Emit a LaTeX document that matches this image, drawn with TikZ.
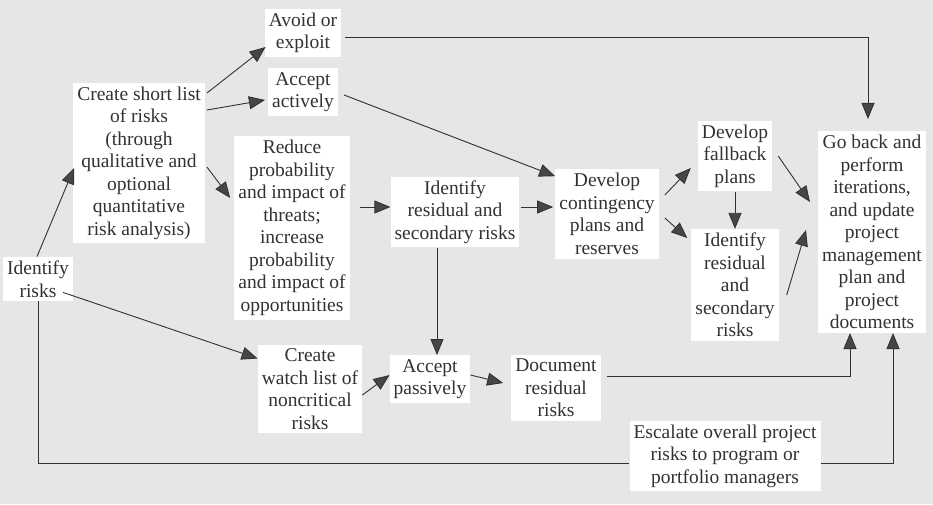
\documentclass[tikz,border=0pt]{standalone}
\usepackage{fontspec}
\setmainfont{Liberation Serif}
\usetikzlibrary{arrows.meta,calc}
\definecolor{bg}{RGB}{230,230,230}
\definecolor{ink}{RGB}{50,50,50}
\definecolor{tipc}{RGB}{70,70,70}
\begin{document}
\begin{tikzpicture}[x=1pt,y=-1pt,
  box/.style={fill=white,align=center,inner sep=4pt,text=ink,font=\fontsize{19.5}{22.5}\selectfont},
  arr/.style={draw=ink,line width=0.9pt,-{Triangle[length=16pt,width=13pt,fill=tipc]}},
  ln/.style={draw=ink,line width=0.9pt}]
\path[fill=bg] (0,0) rectangle (933,504);
\useasboundingbox (0,0) rectangle (933,504);
% nodes
\node[box] (identify) at (38,279) {Identify\\risks};
\node[box] (create) at (139,163) {Create short list\\of risks\\(through\\qualitative and\\optional\\quantitative\\risk analysis)};
\node[box] (avoid) at (303,33) {Avoid or\\exploit};
\node[box] (acceptA) at (303,92) {Accept\\actively};
\node[box] (reduce) at (292,228) {Reduce\\probability\\and impact of\\threats;\\increase\\probability\\and impact of\\opportunities};
\node[box] (resid1) at (455,212) {Identify\\residual and\\secondary risks};
\node[box] (conting) at (607,214) {Develop\\contingency\\plans and\\reserves};
\node[box] (fallback) at (735,156) {Develop\\fallback\\plans};
\node[box] (resid2) at (735,285) {Identify\\residual\\and\\secondary\\risks};
\node[box] (goback) at (872,232) {Go back and\\perform\\iterations,\\and update\\project\\management\\plan and\\project\\documents};
\node[box] (watch) at (310,389) {Create\\watch list of\\noncritical\\risks};
\node[box] (acceptP) at (430,379) {Accept\\passively};
\node[box] (document) at (556,388) {Document\\residual\\risks};
\node[box] (escalate) at (725,456) {Escalate overall project\\risks to program or\\portfolio managers};
% connectors
\draw[arr] ([xshift=-1]identify.north) -- ([xshift=1,yshift=-5]create.west);
\draw[arr] ([xshift=-10,yshift=9]identify.south east) -- ([yshift=-14]watch.north west);
\draw[ln] (identify.south) |- ([yshift=-7]escalate.west);
\draw[arr] ([yshift=-7]escalate.east) -| ([xshift=21]goback.south);
\draw[arr] ([xshift=2,yshift=70]create.east) -- ([xshift=1,yshift=-14]avoid.west);
\draw[arr] ([xshift=2,yshift=53]create.east) -- ([xshift=-3,yshift=-8]acceptA.west);
\draw[arr] ([xshift=2,yshift=-4]create.east) -- ([xshift=-4,yshift=30]reduce.west);
\draw[arr] ([xshift=4,yshift=-4]avoid.east) -| ([xshift=-4,yshift=12]goback.north);
\draw[arr] ([xshift=6,yshift=-3]acceptA.east) -- ([yshift=-7]conting.north west);
\draw[arr] ([xshift=10,yshift=21]reduce.east) -- ([yshift=5]resid1.west);
\draw[arr] ([xshift=1,yshift=5]resid1.east) -- ([xshift=-2,yshift=7]conting.west);
\draw[arr] ([xshift=-18]resid1.south) -- ([xshift=-18]resid1.south |- acceptP.north);
\draw[arr] ([yshift=-6]watch.east) -- ([yshift=4]acceptP.west);
\draw[arr] ([yshift=4]acceptP.east) -- ([xshift=-8,yshift=5]document.west);
\draw[arr] ([xshift=6,yshift=12]document.east) -| ([xshift=-22]goback.south);
\draw[arr] ([xshift=6,yshift=19]conting.east) -- ([xshift=-7,yshift=-12]fallback.west);
\draw[arr] ([xshift=6,yshift=-4]conting.east) -- ([xshift=-4,yshift=47]resid2.west);
\draw[arr] (fallback.south) -- (resid2.north);
\draw[arr] ([xshift=6]fallback.east) -- ([xshift=-8,yshift=30]goback.west);
\draw[arr] ([xshift=8,yshift=-10]resid2.east) -- ([xshift=-12,yshift=2]goback.west);
\end{tikzpicture}
\end{document}
